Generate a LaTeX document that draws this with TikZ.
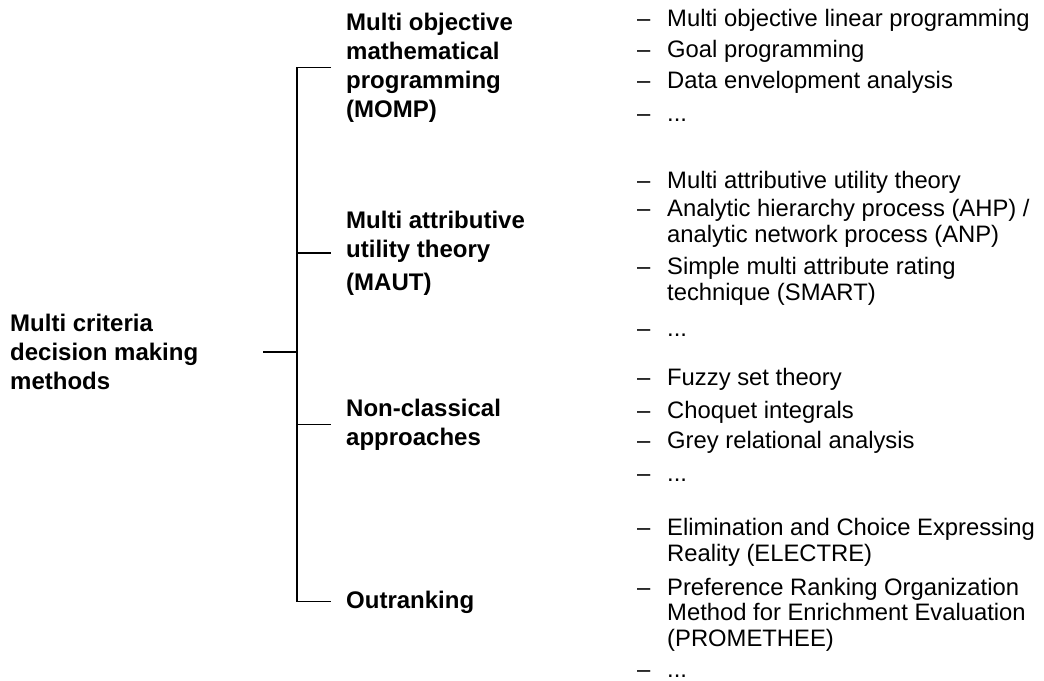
\documentclass[tikz,border=0pt]{standalone}
\usepackage{fontspec}
\setmainfont{Liberation Sans}
\usepackage{tikz}

\tikzset{
	grp/.style={anchor=base west, align=left, inner ysep=0pt, inner xsep=15pt,
		font=\bfseries\fontsize{24}{28.7}\selectfont},
	itm/.style={anchor=base west, align=left, inner sep=0pt,
		font=\fontsize{23.8}{25.5}\selectfont},
	lnk/.style={draw=black, line width=1.2pt},
}
\newcommand{\bul}{\llap{\makebox[30pt][l]{–}}}

\begin{document}
\begin{tikzpicture}[x=1pt, y=-1pt]
		\useasboundingbox (0,0) rectangle (1044,680);

		% root and groups (placed at the baseline of their last line)
		\node[grp, inner xsep=0pt] (mcdm) at (10,389) {Multi criteria\\decision making\\methods};
		\node[grp] (momp) at (331,117) {Multi objective\\mathematical\\programming\\(MOMP)};
		\node[grp] (maut) at (331,290) {Multi attributive\\utility theory\\[4pt](MAUT)};
		\node[grp] (noncl) at (331,445) {Non-classical\\approaches};
		\node[grp] (outr) at (331,608) {Outranking};

		\coordinate (rootend) at (263,352);
		\coordinate (hub) at (297,352);

		\draw[lnk, line width=2pt] (rootend) -- (hub);
		\draw[lnk] (momp.west) -| (hub) |- (outr.west);
		\draw[lnk] (hub) |- (maut.west);
		\draw[lnk] (hub) |- (noncl.west);

		% methods
		\node[itm] (m1) at (667,26) {\bul Multi objective linear programming};
		\node[itm] (m2) at (667,57) {\bul Goal programming};
		\node[itm] (m3) at (667,88) {\bul Data envelopment analysis};
		\node[itm] (m4) at (667,121) {\bul ...};

		\node[itm] (a1) at (667,188) {\bul Multi attributive utility theory};
		\node[itm] (a2) at (667,242) {\bul Analytic hierarchy process (AHP) /\\analytic network process (ANP)};
		\node[itm] (a3) at (667,300) {\bul Simple multi attribute rating\\technique (SMART)};
		\node[itm] (a4) at (667,336) {\bul ...};

		\node[itm] (n1) at (667,385) {\bul Fuzzy set theory};
		\node[itm] (n2) at (667,418) {\bul Choquet integrals};
		\node[itm] (n3) at (667,448) {\bul Grey relational analysis};
		\node[itm] (n4) at (667,481) {\bul ...};

		\node[itm] (o1) at (667,561) {\bul Elimination and Choice Expressing\\Reality (ELECTRE)};
		\node[itm] (o2) at (667,646) {\bul Preference Ranking Organization\\Method for Enrichment Evaluation\\(PROMETHEE)};
		\node[itm] (o3) at (667,677) {\bul ...};
	\end{tikzpicture}
\end{document}
